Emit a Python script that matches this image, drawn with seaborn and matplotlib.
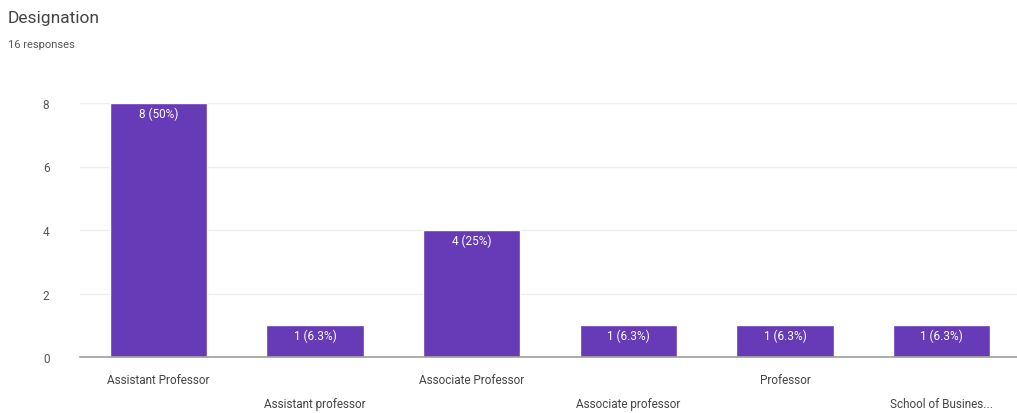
import numpy as np
import pandas as pd
import seaborn as sns
import matplotlib.pyplot as plt

# Veriler
categories = ["Assistant Professor", "Assistant professor", "Associate Professor",
              "Associate professor", "Professor", "School of Busines..."]
counts = [8, 1, 4, 1, 1, 1]
labels = ["8 (50%)", "1 (6.3%)", "4 (25%)", "1 (6.3%)", "1 (6.3%)", "1 (6.3%)"]

df = pd.DataFrame({"category": categories, "count": counts})

sns.set_style("white")
plt.rcParams['font.family'] = ['Roboto', 'DejaVu Sans']

fig = plt.figure(figsize=(10.17, 4.14), dpi=100)
ax = fig.add_axes([80 / 1017, 56 / 414, 940 / 1017, 254 / 414])

sns.barplot(data=df, x="category", y="count", color="#673ab7", saturation=1,
            width=0.62, ax=ax)

ax.set_ylim(0, 8)
ax.set_xlim(-0.5, 5.5)
ax.set_yticks([0, 2, 4, 6, 8])
ax.yaxis.grid(True, color="#eeeeee", linewidth=1)
ax.set_axisbelow(True)
for s in ["top", "right", "left"]:
    ax.spines[s].set_visible(False)
ax.spines["bottom"].set_color("#9e9e9e")
ax.spines["bottom"].set_linewidth(1.2)
ax.tick_params(axis="both", length=0, labelsize=8.5, labelcolor="#555555")
ax.tick_params(axis="y", pad=22)
ax.set_xlabel("")
ax.set_ylabel("")

# Alternatif satırlı x etiketleri
ax.set_xticklabels([])
for i, cat in enumerate(categories):
    yoff = -0.72 if i % 2 == 0 else -1.45
    ax.text(i, yoff, cat, ha="center", va="center", fontsize=8.5, color="#444444")

# Çubuk etiketleri
for i, (c, lab) in enumerate(zip(counts, labels)):
    ax.text(i, c - 0.12, lab, ha="center", va="top", fontsize=8.5, color="white")

fig.text(8 / 1017, 1 - 18 / 414, "Designation", fontsize=12.5, color="#444444", va="center")
fig.text(8 / 1017, 1 - 45 / 414, "16 responses", fontsize=8, color="#555555", va="center")

plt.savefig("out.png", dpi=100)
plt.close()
